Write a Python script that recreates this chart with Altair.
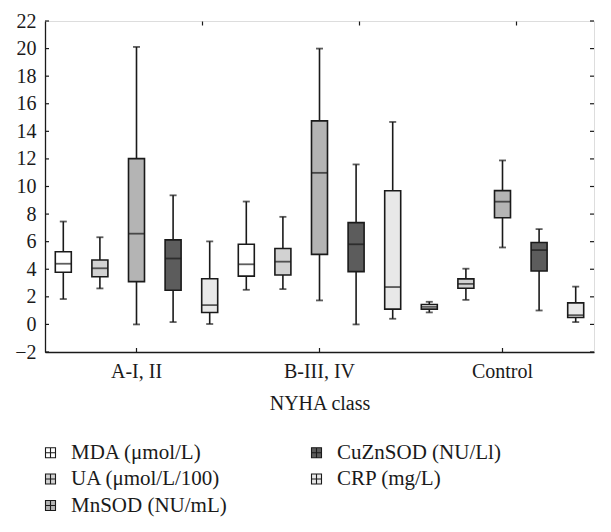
import altair as alt
import pandas as pd

groups = ["A-I, II", "B-III, IV", "Control"]
series = ["MDA (μmol/L)", "UA (μmol/L/100)", "MnSOD (NU/mL)", "CuZnSOD (NU/Ll)", "CRP (mg/L)"]
fills = ["#ffffff", "#d2d2d2", "#b4b4b4", "#5c5c5c", "#e8e8e8"]

# values per group, in the order of `series`
whisker_low = {
    "A-I, II": [1.84, 2.61, 0.0, 0.17, 0.03],
    "B-III, IV": [2.51, 2.56, 1.74, 0.0, 0.41],
    "Control": [0.87, 1.78, 5.58, 1.01, 0.17],
}
q1 = {
    "A-I, II": [3.78, 3.46, 3.10, 2.48, 0.86],
    "B-III, IV": [3.50, 3.58, 5.08, 3.83, 1.11],
    "Control": [1.11, 2.62, 7.73, 3.87, 0.50],
}
median = {
    "A-I, II": [4.40, 4.07, 6.58, 4.78, 1.40],
    "B-III, IV": [4.36, 4.55, 10.99, 5.81, 2.71],
    "Control": [1.27, 2.94, 8.90, 5.39, 0.67],
}
q3 = {
    "A-I, II": [5.27, 4.67, 12.02, 6.13, 3.31],
    "B-III, IV": [5.81, 5.50, 14.76, 7.38, 9.69],
    "Control": [1.44, 3.30, 9.70, 5.94, 1.56],
}
whisker_high = {
    "A-I, II": [7.46, 6.32, 20.12, 9.36, 6.02],
    "B-III, IV": [8.91, 7.80, 20.00, 11.60, 14.68],
    "Control": [1.64, 4.04, 11.89, 6.91, 2.74],
}

y_ticks = list(range(-2, 23, 2))
top_ticks = [2, 4, 6]

rows = []
for g in groups:
    for i, s in enumerate(series):
        rows.append({
            "group": g, "series": s,
            "low": whisker_low[g][i], "q1": q1[g][i], "median": median[g][i],
            "q3": q3[g][i], "high": whisker_high[g][i],
        })
df = pd.DataFrame(rows)

W, H = 549, 331
FONT = "Liberation Serif"
INK = "#1a1a1a"

xenc = alt.X("group:N", sort=groups,
             scale=alt.Scale(paddingInner=0, paddingOuter=0),
             axis=alt.Axis(title="NYHA class", ticks=False, labelAngle=0,
                           labelFontSize=20, labelPadding=9, titleFontSize=20,
                           titleFontWeight="normal", titlePadding=12,
                           domainColor=INK, domainWidth=1.3, labelColor=INK,
                           titleColor=INK))
xoff = alt.XOffset("series:N", sort=series,
                   scale=alt.Scale(paddingInner=0, paddingOuter=0))
yscale = alt.Scale(domain=[-2, 22], nice=False)
yaxis = alt.Axis(values=y_ticks, ticks=False, grid=False, title=None,
                 labelFontSize=20, labelPadding=9, domainColor=INK,
                 domainWidth=1.3, labelColor=INK)

base = alt.Chart(df).encode(x=xenc, xOffset=xoff)

whiskers = base.mark_rule(color=INK, strokeWidth=1.6).encode(
    y=alt.Y("low:Q", scale=yscale, axis=yaxis), y2="high:Q")

boxes = base.mark_bar(size=16, stroke=INK, strokeWidth=1.6).encode(
    y=alt.Y("q1:Q", scale=yscale, axis=yaxis), y2="q3:Q",
    fill=alt.Fill("series:N", sort=series,
                  scale=alt.Scale(domain=series, range=fills),
                  legend=alt.Legend(
                      title=None, orient="none", legendX=-5, legendY=421,
                      columns=2, columnPadding=79, rowPadding=4.5,
                      symbolType="M-1,-1H1V1H-1ZM0,-1V1M-1,0H1",
                      symbolSize=100, symbolStrokeColor=INK,
                      symbolStrokeWidth=1.1, symbolOpacity=1,
                      labelFontSize=21, labelOffset=10, labelLimit=400,
                      labelColor=INK, padding=0)))

medians = base.mark_tick(color=INK, thickness=1.8, size=16).encode(
    y=alt.Y("median:Q", scale=yscale, axis=yaxis))
cap_lo = base.mark_tick(color=INK, thickness=1.8, size=7).encode(
    y=alt.Y("low:Q", scale=yscale, axis=yaxis))
cap_hi = base.mark_tick(color=INK, thickness=1.8, size=7).encode(
    y=alt.Y("high:Q", scale=yscale, axis=yaxis))

ytick_df = pd.DataFrame({"v": y_ticks})
left_ticks = alt.Chart(ytick_df).mark_rule(color=INK, strokeWidth=1.2).encode(
    y=alt.Y("v:Q", scale=yscale, axis=yaxis),
    x=alt.value(0), x2=alt.value(4))
right_ticks = alt.Chart(ytick_df).mark_rule(color=INK, strokeWidth=1.2).encode(
    y=alt.Y("v:Q", scale=yscale, axis=yaxis),
    x=alt.value(W - 4), x2=alt.value(W))

group_df = pd.DataFrame({"group": groups})
bottom_ticks = alt.Chart(group_df).mark_rule(color=INK, strokeWidth=1.2).encode(
    x=xenc, y=alt.value(H - 4), y2=alt.value(H))

inner = alt.layer(whiskers, boxes, medians, cap_lo, cap_hi,
                  left_ticks, right_ticks, bottom_ticks)

top_df = pd.DataFrame({"t": top_ticks})
top_layer = alt.Chart(top_df).mark_point(opacity=0).encode(
    x=alt.X("t:Q", scale=alt.Scale(domain=[0, 7], nice=False),
            axis=alt.Axis(orient="top", values=top_ticks, labels=False,
                          domain=False, grid=False, title=None, tickSize=4,
                          offset=-4, tickColor=INK, tickWidth=1.2)))

chart = alt.layer(inner, top_layer).resolve_scale(x="independent").properties(
    width=W, height=H,
    padding={"left": 6, "top": 3, "right": 5, "bottom": 5},
).configure_view(stroke=INK, strokeWidth=1.3).configure(font=FONT)

chart.save("out.html", embed_options={"renderer": "svg", "actions": False})
